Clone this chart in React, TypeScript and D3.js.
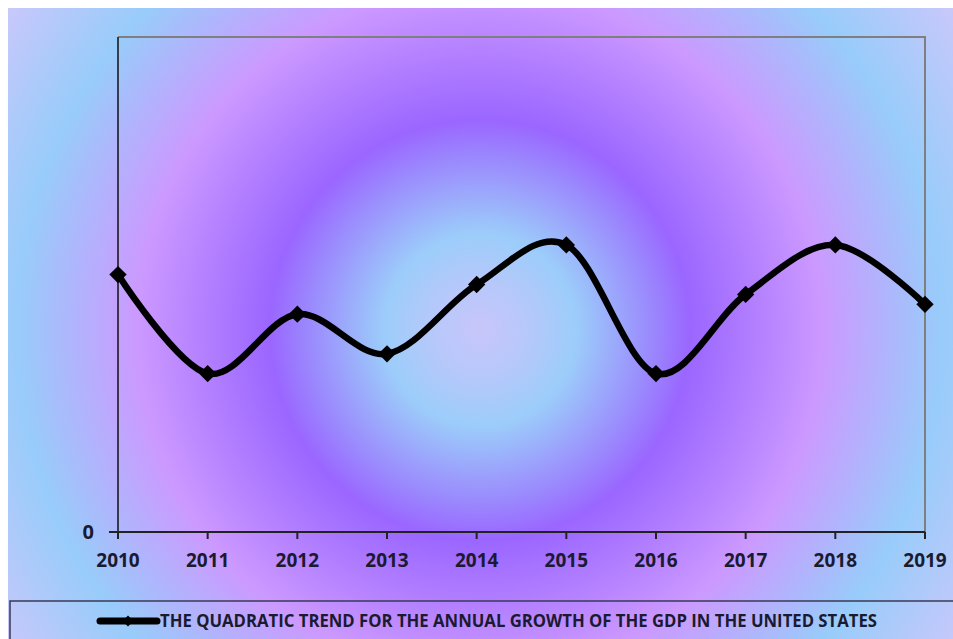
import * as d3 from 'd3'

const years = ['2010', '2011', '2012', '2013', '2014', '2015', '2016', '2017', '2018', '2019']
const growth = [2.6, 1.6, 2.2, 1.8, 2.5, 2.9, 1.6, 2.4, 2.9, 2.3]
const yTicks = [0]
const legendLabel = 'THE QUADRATIC TREND FOR THE ANNUAL GROWTH OF THE GDP IN THE UNITED STATES'

const width = 953
const height = 639
const marginLeft = 118
const marginRight = 28
const marginTop = 37
const marginBottom = 107
const font = '"Open Sans", "DejaVu Sans", sans-serif'
const textColor = '#1a1a30'

export default function App() {
  const x = d3.scalePoint(years, [marginLeft, width - marginRight])
  const y = d3.scaleLinear([0, 5], [height - marginBottom, marginTop])
  const line = d3
    .line<number>((d, i) => x(years[i]) as number, (d) => y(d))
    .curve(d3.curveCatmullRom.alpha(0))
  const diamond = d3.symbol(d3.symbolSquare, 150)()
  const legendDiamond = d3.symbol(d3.symbolSquare, 60)()

  const plotRight = width - marginRight
  const plotBottom = height - marginBottom

  return (
    <svg
      width={width}
      height={height}
      style={{ position: 'absolute', left: 0, top: 0, display: 'block' }}
    >
      <defs>
        <radialGradient id="bg" gradientUnits="userSpaceOnUse" cx={480} cy={330} r={600}>
          <stop offset="0" stopColor="#c8c6fa" />
          <stop offset="0.08" stopColor="#b6c8fa" />
          <stop offset="0.16" stopColor="#9ccdfa" />
          <stop offset="0.35" stopColor="#9a66ff" />
          <stop offset="0.57" stopColor="#cc99ff" />
          <stop offset="0.77" stopColor="#98ccfa" />
          <stop offset="0.95" stopColor="#c8c8fa" />
          <stop offset="1" stopColor="#ccc8fa" />
        </radialGradient>
      </defs>
      <rect x={0} y={0} width={width} height={height} fill="#fff" />
      <rect x={8} y={8} width={width - 8} height={height - 8} fill="url(#bg)" />

      {/* plot frame */}
      <path
        d={`M${marginLeft},${marginTop}H${plotRight}V${plotBottom}`}
        fill="none"
        stroke="#7f7f7f"
        strokeWidth={2}
      />
      <line x1={marginLeft} x2={marginLeft} y1={marginTop} y2={plotBottom} stroke="#111" strokeWidth={1.5} />
      <line x1={marginLeft - 9} x2={plotRight} y1={plotBottom} y2={plotBottom} stroke="#222" strokeWidth={2} />

      {/* x ticks and labels */}
      {years.map((yr) => (
        <g key={yr} transform={`translate(${x(yr)},0)`}>
          <line y1={plotBottom} y2={plotBottom + 7} stroke="#222" strokeWidth={2} />
          <text
            y={plotBottom + 35}
            textAnchor="middle"
            fontFamily={font}
            fontWeight="bold"
            fontSize={19}
            fill={textColor}
          >
            {yr}
          </text>
        </g>
      ))}

      {/* y labels */}
      {yTicks.map((t) => (
        <text
          key={t}
          x={marginLeft - 24}
          y={y(t) + 7}
          textAnchor="end"
          fontFamily={font}
          fontWeight="bold"
          fontSize={20}
          fill={textColor}
        >
          {t}
        </text>
      ))}

      {/* series */}
      <path d={line(growth) || undefined} fill="none" stroke="#000" strokeWidth={6.5} strokeLinejoin="round" />
      {growth.map((d, i) => (
        <path
          key={years[i]}
          d={diamond || undefined}
          transform={`translate(${x(years[i])},${y(d)}) rotate(45)`}
          fill="#000"
        />
      ))}

      {/* legend */}
      <rect x={10} y={601} width={width} height={60} fill="none" stroke="#3a3a55" strokeWidth={1.5} />
      <line x1={100} x2={157} y1={621} y2={621} stroke="#000" strokeWidth={7} strokeLinecap="round" />
      <path d={legendDiamond || undefined} transform="translate(128,621) rotate(45)" fill="#000" />
      <text
        x={160}
        y={627}
        fontFamily={font}
        fontWeight="bold"
        fontSize={17}
        fill={textColor}
        textLength={717}
        lengthAdjust="spacingAndGlyphs"
      >
        {legendLabel}
      </text>
    </svg>
  )
}
